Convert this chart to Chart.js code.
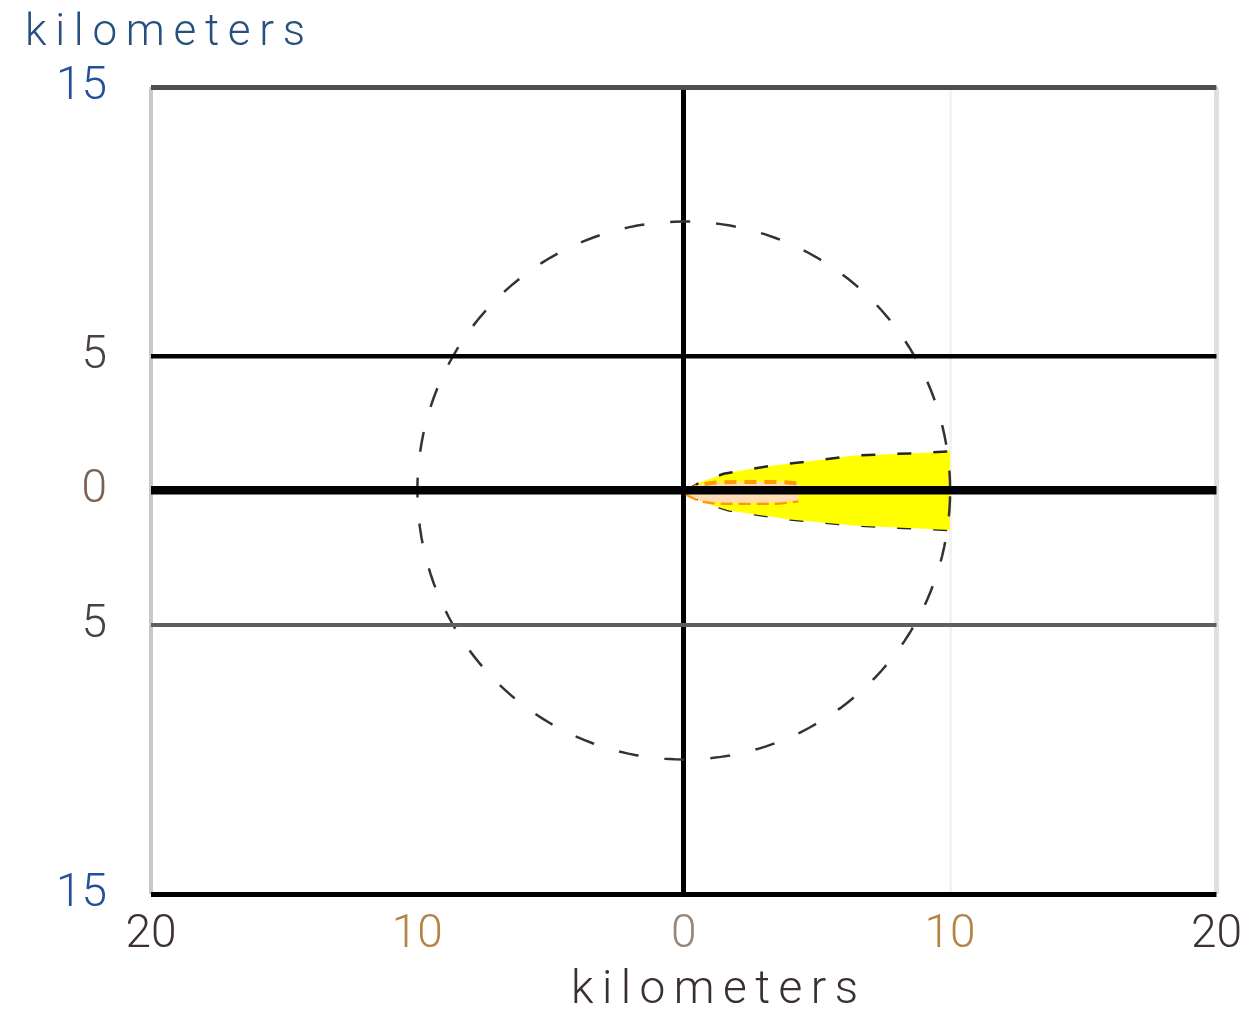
<!DOCTYPE html>
<html>
<head>
<meta charset="utf-8">
<title>Plume footprint</title>
<script src="https://cdn.jsdelivr.net/npm/chart.js@4/dist/chart.umd.min.js"></script>
<style>
  html, body { margin: 0; padding: 0; background: #ffffff; overflow: hidden; }
  #wrap { width: 1256px; height: 1012px; position: relative; }
</style>
</head>
<body>
<div id="wrap"><canvas id="chart"></canvas></div>
<script>
// Axis ticks (km)
const xTicks = [-20, -10, 0, 10, 20];
const yTicks = [-15, -5, 0, 5, 15];
const axisLabel = 'kilometers';

// Range ring radius (km)
const ringRadiusKm = 10;

// Outer (yellow) plume outline, km
const outerTopX = [0.1, 0.6, 1.5, 2.4, 3.3, 5.0, 6.4, 8.5, 10.0];
const outerTopY = [0.0, 0.30, 0.62, 0.78, 0.92, 1.12, 1.30, 1.38, 1.46];
const outerBotX = [0.1, 0.6, 1.1, 1.7, 2.7, 4.0, 5.2, 6.4, 8.0, 10.0];
const outerBotY = [-0.05, -0.37, -0.56, -0.74, -0.89, -1.08, -1.19, -1.30, -1.38, -1.47];

// Inner (orange) plume outline, km
const innerTopX = [0.1, 0.6, 1.2, 2.5, 3.6, 4.3];
const innerTopY = [-0.05, 0.22, 0.30, 0.32, 0.32, 0.26];
const innerBotX = [0.1, 0.6, 1.2, 2.5, 3.6, 4.3];
const innerBotY = [-0.12, -0.36, -0.45, -0.46, -0.45, -0.36];

const toPts = (xs, ys) => xs.map((x, i) => ({ x: x, y: ys[i] }));

// ring points around the origin
const ringPts = [];
for (let d = 0; d <= 360; d += 2) {
  const a = d * Math.PI / 180;
  ringPts.push({ x: ringRadiusKm * Math.cos(a), y: ringRadiusKm * Math.sin(a) });
}

const FONT_FAMILY = 'Roboto, "DejaVu Sans", sans-serif';

// per-line grid styling
const yGridColor = { '15': '#4e4e4e', '5': '#000000', '0': '#000000', '-5': '#5e5e5e', '-15': '#000000' };
const yGridWidth = { '15': 5, '5': 4.5, '0': 8.5, '-5': 4, '-15': 5 };
const xGridColor = { '-20': '#c8c8c8', '-10': 'rgba(0,0,0,0)', '0': '#000000', '10': '#f3f3f3', '20': '#e0e0e0' };
const xGridWidth = { '-20': 4, '-10': 1, '0': 5, '10': 3, '20': 5 };
const xTickColor = { '-20': '#3e3038', '-10': '#b58445', '0': '#9a8474', '10': '#b58445', '20': '#3e3038' };
const yTickColor = { '15': '#24509a', '5': '#4a4048', '0': '#7a6252', '-5': '#4a4048', '-15': '#24509a' };

// free-standing axis captions
const captions = {
  id: 'captions',
  afterDraw(chart) {
    const ctx = chart.ctx;
    const items = [
      { text: axisLabel, left: 25, base: 45, width: 280, size: 44, color: '#27507e' },
      { text: axisLabel, left: 571, base: 1003, width: 287, size: 46, color: '#3b2f34' }
    ];
    ctx.save();
    ctx.textAlign = 'left';
    ctx.textBaseline = 'alphabetic';
    for (const it of items) {
      ctx.font = '300 ' + it.size + 'px ' + FONT_FAMILY;
      ctx.letterSpacing = '0px';
      const w = ctx.measureText(it.text).width;
      const gap = (it.width - w) / (it.text.length - 1);
      ctx.letterSpacing = gap + 'px';
      ctx.fillStyle = it.color;
      ctx.fillText(it.text, it.left, it.base);
    }
    ctx.restore();
  }
};

new Chart(document.getElementById('chart'), {
  type: 'scatter',
  data: {
    datasets: [
      {
        label: 'outer top',
        data: toPts(outerTopX, outerTopY),
        showLine: true,
        fill: '+1',
        backgroundColor: '#ffff00',
        borderColor: '#262626',
        borderWidth: 2.5,
        borderDash: [14, 22],
        pointRadius: 0,
        order: 3
      },
      {
        label: 'outer bottom',
        data: toPts(outerBotX, outerBotY),
        showLine: true,
        fill: false,
        borderColor: '#262626',
        borderWidth: 2.5,
        borderDash: [14, 22],
        pointRadius: 0,
        order: 3
      },
      {
        label: 'inner top',
        data: toPts(innerTopX, innerTopY),
        showLine: true,
        fill: '+1',
        backgroundColor: '#ffdcb4',
        borderColor: '#ff9a00',
        borderWidth: 4,
        borderDash: [12, 8],
        pointRadius: 0,
        order: 2
      },
      {
        label: 'inner bottom',
        data: toPts(innerBotX, innerBotY),
        showLine: true,
        fill: false,
        borderColor: '#ff9a00',
        borderWidth: 4.5,
        borderDash: [12, 6],
        pointRadius: 0,
        order: 2
      },
      {
        label: 'range ring',
        data: ringPts,
        showLine: true,
        fill: false,
        borderColor: '#333333',
        borderWidth: 2.5,
        borderDash: [20, 26],
        pointRadius: 0,
        order: 1
      }
    ]
  },
  options: {
    responsive: true,
    maintainAspectRatio: false,
    animation: false,
    layout: { padding: { top: 87, right: 35, left: 0, bottom: 0 } },
    plugins: { legend: { display: false }, tooltip: { enabled: false }, title: { display: false } },
    scales: {
      x: {
        type: 'linear',
        min: -20,
        max: 20,
        afterBuildTicks: s => { s.ticks = xTicks.map(v => ({ value: v })); },
        afterFit: s => { s.height = 118; },
        border: { display: false },
        grid: {
          drawTicks: false,
          color: c => xGridColor[String(c.tick.value)],
          lineWidth: c => xGridWidth[String(c.tick.value)]
        },
        ticks: {
          autoSkip: false,
          maxRotation: 0,
          padding: 14,
          font: { family: FONT_FAMILY, size: 46, weight: '300' },
          color: c => xTickColor[String(c.tick.value)],
          callback: v => String(Math.abs(v))
        }
      },
      y: {
        type: 'linear',
        min: -15,
        max: 15,
        afterBuildTicks: s => { s.ticks = yTicks.map(v => ({ value: v })); },
        afterFit: s => { s.width = 151; },
        border: { display: false },
        grid: {
          z: 1,
          drawTicks: false,
          color: c => yGridColor[String(c.tick.value)],
          lineWidth: c => yGridWidth[String(c.tick.value)]
        },
        ticks: {
          autoSkip: false,
          padding: 44,
          font: { family: FONT_FAMILY, size: 46, weight: '300' },
          color: c => yTickColor[String(c.tick.value)],
          callback: v => String(Math.abs(v))
        }
      }
    }
  },
  plugins: [captions]
});
</script>
</body>
</html>
